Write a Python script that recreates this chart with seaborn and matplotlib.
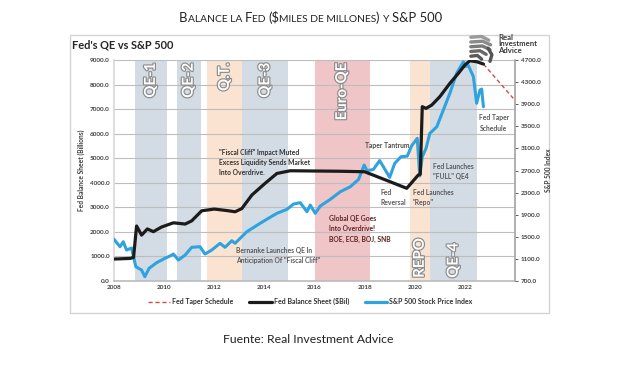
import numpy as np
import pandas as pd
import matplotlib
matplotlib.use("Agg")
import matplotlib.pyplot as plt
import matplotlib.patheffects as pe
from matplotlib.lines import Line2D
from matplotlib.patches import Rectangle
from matplotlib.offsetbox import TextArea, HPacker, AnchoredOffsetbox
import seaborn as sns

# ==================================================
# Dados
# ==================================================
anos_balanco = [2008.0, 2008.64, 2008.78, 2008.9, 2009.1, 2009.33, 2009.57, 2009.9,
                2010.37, 2010.84, 2011.1, 2011.5, 2012.0, 2012.5, 2012.83, 2013.1,
                2013.5, 2014.03, 2014.5, 2015.03, 2016.0, 2017.0, 2018.0, 2018.5,
                2019.0, 2019.68, 2020.14, 2020.22, 2020.3, 2020.45, 2020.68, 2021.0,
                2021.4, 2021.74, 2022.0, 2022.2, 2022.47, 2022.74]
balanco_fed = [895, 920, 960, 2240, 1870, 2120, 2010, 2200,
               2370, 2320, 2450, 2860, 2930, 2870, 2820, 2950,
               3500, 3980, 4380, 4490, 4480, 4470, 4450, 4250,
               4050, 3775, 4316, 4350, 7100, 7030, 7166, 7506,
               8048, 8456, 8795, 8970, 8930, 8836]

anos_taper = [2022.74, 2023.93]
taper_fed = [8836, 7440]

anos_sp = [2008.0, 2008.24, 2008.37, 2008.5, 2008.7, 2008.87, 2009.1, 2009.23,
           2009.4, 2009.7, 2010.03, 2010.23, 2010.37, 2010.57, 2010.84, 2011.1,
           2011.43, 2011.63, 2011.9, 2012.23, 2012.43, 2012.7, 2012.83, 2013.3,
           2013.83, 2014.16, 2014.5, 2014.9, 2015.16, 2015.43, 2015.7, 2015.83,
           2016.03, 2016.23, 2016.63, 2017.03, 2017.43, 2017.76, 2017.98, 2018.1,
           2018.35, 2018.6, 2019.0, 2019.2, 2019.45, 2019.7, 2019.88, 2020.1,
           2020.2, 2020.3, 2020.45, 2020.6, 2020.88, 2021.14, 2021.4, 2021.67,
           2021.94, 2022.0, 2022.14, 2022.34, 2022.47, 2022.6, 2022.67, 2022.74]
sp500 = [1455, 1320, 1411, 1261, 1297, 959, 899, 778,
         930, 1031, 1111, 1152, 1188, 1080, 1170, 1310,
         1321, 1188, 1261, 1382, 1310, 1429, 1382, 1592,
         1744, 1835, 1925, 1997, 2093, 2118, 1954, 2075,
         1925, 2057, 2178, 2316, 2407, 2540, 2799, 2696,
         2720, 2880, 2576, 2829, 2949, 2960, 3150, 3282,
         2600, 2950, 3100, 3371, 3492, 3795, 4096, 4458,
         4669, 4579, 4600, 4398, 3916, 4157, 4174, 3855]

# períodos sombreados
periodos = ["QE-1", "QE-2", "Q.T.", "QE-3", "Euro-QE", "REPO", "QE-4"]
inicio = [2008.84, 2010.5, 2011.72, 2013.12, 2016.0, 2019.8, 2020.6]
fim = [2010.1, 2011.46, 2013.12, 2014.95, 2018.2, 2020.6, 2022.5]
tipo = ["qe", "qe", "qt", "qe", "euro", "qt", "qe"]

ticks_esq = list(range(0, 9001, 1000))
ticks_dir = list(range(700, 4701, 400))
ticks_x = list(range(2008, 2023, 2))

# ==================================================
# Estilo
# ==================================================
sns.set_theme(style="white")
plt.rcParams["font.family"] = ["Lato", "DejaVu Sans"]

cores_faixa = {"qe": "#d3dbe4", "qt": "#fbe3d2", "euro": "#f0c5c7"}
azul = "#2ea3df"
preto = "#1b1b1b"
vermelho = "#c8504a"
cinza_txt = "#404040"

df_bal = pd.DataFrame({"ano": anos_balanco, "valor": balanco_fed})
df_sp = pd.DataFrame({"ano": anos_sp, "valor": sp500})
df_tap = pd.DataFrame({"ano": anos_taper, "valor": taper_fed})

fig = plt.figure(figsize=(6.38, 3.65), dpi=100)
ax = fig.add_axes([0.1787, 0.2301, 0.6285, 0.6055])
ax2 = ax.twinx()

# moldura externa
fig.add_artist(Rectangle((0.1097, 0.1425), 0.7508, 0.7616, transform=fig.transFigure,
                         fill=False, edgecolor="#d4d4d4", lw=1.0, zorder=0))

# faixas
for nome, a, b, t in zip(periodos, inicio, fim, tipo):
    ax.axvspan(a, b, color=cores_faixa[t], lw=0, zorder=0)
    meio = (a + b) / 2
    if nome in ("REPO", "QE-4"):
        y, va = 130, "bottom"
    else:
        y, va = 8900, "top"
    ax.text(meio, y, nome, rotation=90, ha="center", va=va, fontsize=10.8,
            color="white", fontweight="bold", zorder=1,
            path_effects=[pe.withStroke(linewidth=1.7, foreground="#8c8c8c")])

ax.set_xlim(2008, 2024)
ax.set_ylim(0, 9000)
ax2.set_ylim(700, 4700)
ax.set_yticks(ticks_esq)
ax.set_yticklabels([f"{v:.1f}" for v in ticks_esq])
ax2.set_yticks(ticks_dir)
ax2.set_yticklabels([f"{v:.1f}" for v in ticks_dir])
ax.set_xticks(ticks_x)
ax.set_xticklabels([str(v) for v in ticks_x])
ax.yaxis.grid(True, color="#bdbdbd", lw=0.8, zorder=0.5)
ax.set_axisbelow(True)

for eixo in (ax, ax2):
    for s in eixo.spines.values():
        s.set_visible(False)
ax.spines["bottom"].set_visible(True)
ax.spines["bottom"].set_color("#bdbdbd")
ax.spines["left"].set_visible(True)
ax.spines["left"].set_color("#d9d9d9")
ax2.spines["right"].set_visible(True)
ax2.spines["right"].set_color("#a6a6a6")

ax.tick_params(axis="both", labelsize=4.6, colors=cinza_txt, length=0, pad=3)
ax2.tick_params(axis="y", labelsize=4.6, colors=cinza_txt, length=2, width=0.6,
                pad=2, direction="out")
for lab in ax.get_xticklabels() + ax.get_yticklabels() + ax2.get_yticklabels():
    lab.set_fontweight("bold")

# linhas
sns.lineplot(data=df_tap, x="ano", y="valor", ax=ax, color=vermelho, lw=1.0,
             linestyle=(0, (3, 2)), zorder=3)
sns.lineplot(data=df_sp, x="ano", y="valor", ax=ax2, color=azul, lw=2.2, zorder=3)
sns.lineplot(data=df_bal, x="ano", y="valor", ax=ax2, color=preto, lw=2.3, zorder=4,
             transform=ax.transData)
ax2.set_ylim(700, 4700)
ax.set_xlim(2008, 2024)

ax.set_xlabel("")
ax.set_ylabel("Fed Balance Sheet (Billions)", fontsize=4.8, fontweight="bold",
              color=cinza_txt, labelpad=4)
ax2.set_ylabel("S&P 500 Index", fontsize=4.8, fontweight="bold", color=cinza_txt,
               labelpad=3)

# anotações
notas = [
    (2012.2, 4820, "\"Fiscal Cliff\" Impact Muted\nExcess Liquidity Sends Market\nInto Overdrive.", "left", "#333333"),
    (2012.87, 1040, "Bernanke Launches QE In\nAnticipation Of \"Fiscal Cliff\"", "left", "#5a5a5a"),
    (2016.58, 2120, "Global QE Goes\nInto Overdrive!\nBOE, ECB, BOJ, SNB", "left", "#5e2323"),
    (2018.9, 5500, "Taper Tantrum", "center", "#4d4d4d"),
    (2018.62, 3415, "Fed\nReversal", "left", "#5a5a5a"),
    (2019.92, 3415, "Fed Launches\n\"Repo\"", "left", "#5a5a5a"),
    (2020.74, 4450, "Fed Launches\n\"FULL\" QE4", "left", "#5a5a5a"),
    (2022.58, 6430, "Fed Taper\nSchedule", "left", "#5a5a5a"),
]
for x, y, txt, ha, cor in notas:
    ax.text(x, y, txt, ha=ha, va="center", fontsize=4.9, fontweight="bold",
            color=cor, linespacing=1.55, zorder=5)

# título do gráfico e logo
fig.text(0.113, 0.877, "Fed's QE vs S&P 500", fontsize=7.9, fontweight="bold",
         color="#262626", ha="left", va="center")
fig.text(0.781, 0.908, "Real\nInvestment\nAdvice", fontsize=5.6, fontweight="bold",
         color="#3a3a3a", ha="left", va="top", linespacing=0.95)
# ícone (águia estilizada)
for dy, w, c in [(0.0, 0.028, "#9a9a9a"), (0.013, 0.031, "#8a8a8a"),
                 (0.026, 0.030, "#7a7a7a"), (0.039, 0.024, "#6a6a6a"),
                 (0.052, 0.017, "#5a5a5a")]:
    yy = 0.898 - dy
    fig.add_artist(Line2D([0.738, 0.738 + w * 0.6, 0.738 + w], [yy, yy + 0.002, yy - 0.008],
                          transform=fig.transFigure, color=c, lw=2.4,
                          solid_capstyle="round", solid_joinstyle="round"))
fig.add_artist(Line2D([0.765, 0.771, 0.768], [0.868, 0.850, 0.832], transform=fig.transFigure,
                      color="#555555", lw=2.4, solid_capstyle="round"))

# legenda
handles = [
    Line2D([], [], color=vermelho, lw=1.0, linestyle=(0, (3, 2))),
    Line2D([], [], color=preto, lw=2.3),
    Line2D([], [], color=azul, lw=2.3),
]
labels = ["Fed Taper Schedule", "Fed Balance Sheet ($Bil)", "S&P 500 Stock Price Index"]
leg = fig.legend(handles, labels, loc="center", bbox_to_anchor=(0.486, 0.173), ncol=3,
                 frameon=False, fontsize=5.0, handlelength=3.2, columnspacing=2.3,
                 handletextpad=0.3)
for t in leg.get_texts():
    t.set_fontweight("bold")
    t.set_color("#333333")

# título superior em versalete
grande, pequeno = 9.4, 7.4
partes = [("B", grande), ("ALANCE LA ", pequeno), ("F", grande), ("ED ", pequeno),
          ("($", grande), ("MILES DE MILLONES", pequeno), (") ", grande),
          ("Y ", pequeno), ("S&P 500", grande)]
caixas = [TextArea(s, textprops=dict(fontsize=tam, color="#222222",
                                     family=["Lato", "DejaVu Sans"])) for s, tam in partes]
pacote = HPacker(children=caixas, sep=0, pad=0, align="baseline")
fig.add_artist(AnchoredOffsetbox(loc="center", child=pacote, pad=0, borderpad=0,
                                 frameon=False, bbox_to_anchor=(0.487, 0.953),
                                 bbox_transform=fig.transFigure))

fig.text(0.483, 0.071, "Fuente: Real Investment Advice", fontsize=8.8, color="#222222",
         ha="center", va="center")

fig.savefig("out.png", dpi=100)
